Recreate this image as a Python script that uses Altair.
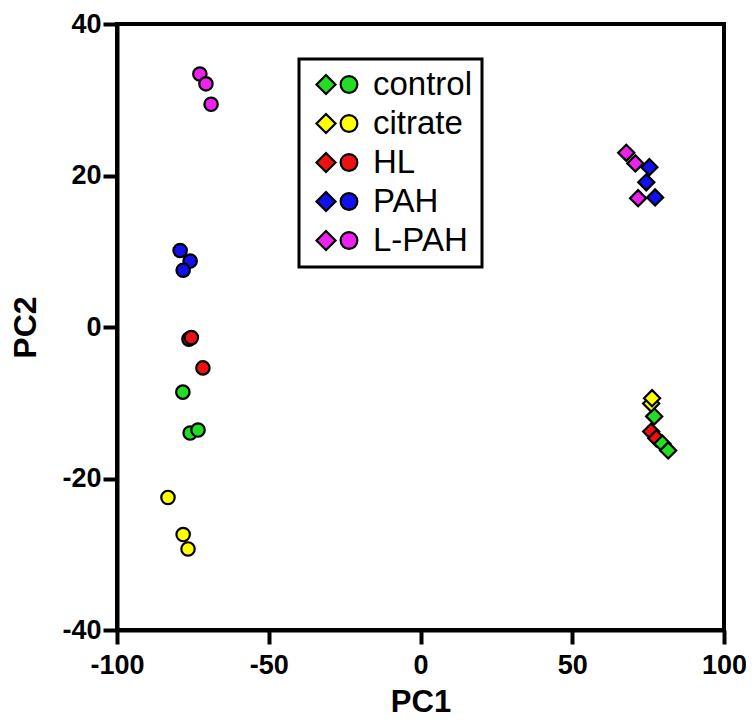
import altair as alt
import pandas as pd

groups = ["control", "citrate", "HL", "PAH", "L-PAH"]
colors = ["#22dd22", "#ffff00", "#ee1111", "#1111ee", "#ee22ee"]

# left cluster (circles)
circ_x = {
    "control": [-78.3, -75.9, -73.3],
    "citrate": [-83.2, -78.2, -76.6],
    "HL": [-76.3, -75.5, -71.7],
    "PAH": [-79.2, -75.9, -78.2],
    "L-PAH": [-72.7, -70.7, -69.0],
}
circ_y = {
    "control": [-8.6, -14.0, -13.6],
    "citrate": [-22.5, -27.4, -29.3],
    "HL": [-1.6, -1.4, -5.4],
    "PAH": [10.1, 8.7, 7.5],
    "L-PAH": [33.4, 32.1, 29.4],
}
# right cluster (diamonds)
diam_x = {
    "control": [77.0, 79.7, 81.6],
    "citrate": [76.0, 76.3],
    "HL": [76.0, 77.7],
    "PAH": [75.4, 74.4, 77.3],
    "L-PAH": [67.8, 70.8, 71.7],
}
diam_y = {
    "control": [-11.8, -15.4, -16.3],
    "citrate": [-10.1, -9.4],
    "HL": [-13.8, -14.7],
    "PAH": [21.1, 19.1, 17.1],
    "L-PAH": [23.0, 21.6, 17.0],
}

x_ticks = [-100, -50, 0, 50, 100]
y_ticks = [-40, -20, 0, 20, 40]

rows = []
for g in groups:
    for x, y in zip(circ_x[g], circ_y[g]):
        rows.append({"group": g, "PC1": x, "PC2": y, "shape": "circle"})
for g in ["HL", "control", "citrate", "L-PAH", "PAH"]:
    for x, y in zip(diam_x[g], diam_y[g]):
        rows.append({"group": g, "PC1": x, "PC2": y, "shape": "diamond"})
df = pd.DataFrame(rows)
df["order"] = range(len(df))

legend_path = ("M -2.21 0 L -1.21 -1 L -0.21 0 L -1.21 1 Z "
               "M 0.33 0 A 0.88 0.88 0 1 0 2.09 0 A 0.88 0.88 0 1 0 0.33 0 Z")

minus_fix = "replace(datum.label, '\u2212', '-')"

chart = alt.Chart(df).mark_point(filled=True, opacity=1, stroke="black", strokeWidth=2.2).encode(
    x=alt.X("PC1:Q", scale=alt.Scale(domain=[-100, 100], nice=False),
            axis=alt.Axis(values=x_ticks, title="PC1", labelExpr=minus_fix,
                          labelPadding=8, titlePadding=9)),
    y=alt.Y("PC2:Q", scale=alt.Scale(domain=[-40, 40], nice=False),
            axis=alt.Axis(values=y_ticks, title="PC2", labelExpr=minus_fix,
                          labelPadding=2, titlePadding=19)),
    fill=alt.Fill("group:N", scale=alt.Scale(domain=groups, range=colors),
                  legend=alt.Legend(title=None, orient="none", legendX=182, legendY=35,
                                    symbolType=legend_path, symbolSize=361,
                                    symbolStrokeColor="black", symbolStrokeWidth=2.2,
                                    symbolOffset=13, labelOffset=19, padding=9,
                                    rowPadding=5, labelFontSize=33, labelFont="Arial",
                                    labelColor="black", strokeColor="black")),
    shape=alt.Shape("shape:N", scale=alt.Scale(domain=["circle", "diamond"], range=["circle", "diamond"]), legend=None),
    size=alt.Size("shape:N", scale=alt.Scale(domain=["circle", "diamond"], range=[180, 260]), legend=None),
    order="order:Q",
).properties(
    width=607, height=606,
    autosize=alt.AutoSizeParams(type="none"),
    padding={"left": 109, "top": 16, "right": 22, "bottom": 90},
).configure_view(
    stroke="black", strokeWidth=4
).configure_axis(
    domainColor="black", domainWidth=4, tickColor="black", tickWidth=4, tickSize=14,
    labelFont="Arial", labelFontSize=27, labelFontWeight="bold", labelColor="black",
    titleFont="Arial", titleFontSize=31, titleFontWeight="bold", titleColor="black",
    grid=False, labelFlush=False,
).configure_axisY(titleFontSize=32).configure_legend(
    strokeWidth=3
)

chart.save("out.html", embed_options={"renderer": "svg", "actions": False})
